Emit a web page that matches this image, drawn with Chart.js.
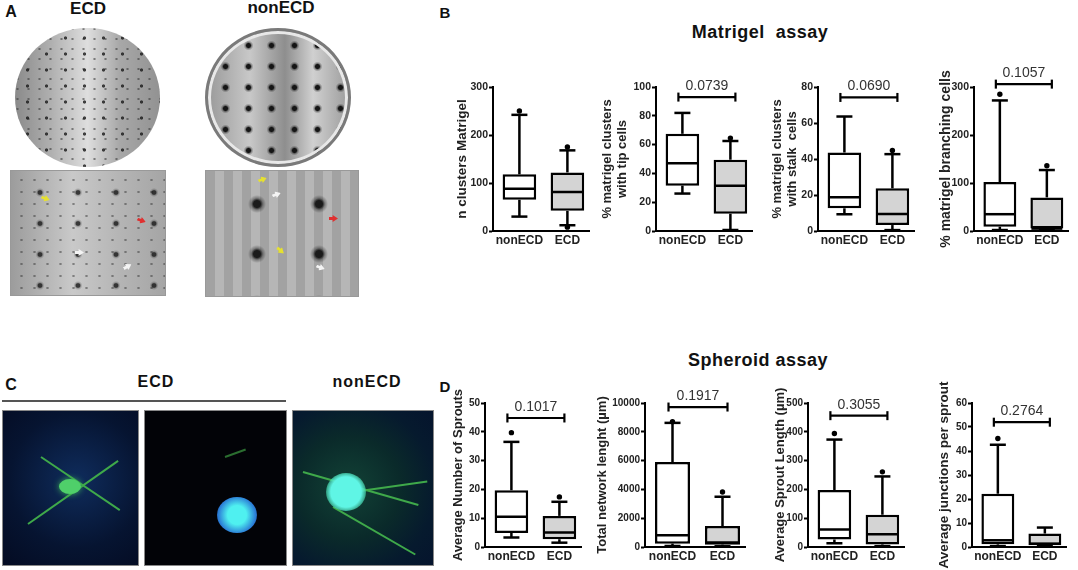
<!DOCTYPE html>
<html>
<head>
<meta charset="utf-8">
<script src="https://cdn.jsdelivr.net/npm/chart.js@4.4.1/dist/chart.umd.min.js"></script>
<style>
body { margin: 0; background: #fff; }
#fig { position: relative; width: 1078px; height: 570px; overflow: hidden; font-family: "Liberation Sans", Arial, sans-serif; color: #111; }
.lbl { position: absolute; font-weight: bold; white-space: pre; transform: translate(-50%, -50%); }
canvas { position: absolute; }
.pic { position: absolute; overflow: hidden; }
.dishA { border-radius: 50%;
  background-image: radial-gradient(circle, rgba(25,25,25,.8) 0 1.2px, transparent 2px),
                    radial-gradient(circle, rgba(50,50,50,.55) 0 0.8px, transparent 1.5px),
                    linear-gradient(90deg, #8a8a8a, #b0b0b0 25%, #dedede 50%, #a8a8a8 72%, #929292);
  background-size: 19px 16px, 11px 10px, 100% 100%;
  background-position: 3px 2px, 8px 6px, 0 0; }
.dishB { border-radius: 50%; box-sizing: border-box; border: 3px solid #7a7a7a; box-shadow: inset 0 0 0 3px #e8e8e8;
  background-image: radial-gradient(circle, #151515 0 2px, rgba(0,0,0,.3) 3.3px, transparent 5px),
                    linear-gradient(90deg, #9a9a9a, #c8c8c8 30%, #8e8e8e 55%, #d0d0d0 75%, #9d9d9d);
  background-size: 23px 21px, 100% 100%;
  background-position: 6px 4px, 0 0; }
.fieldA { border: 1px solid #999;
  background-image: radial-gradient(circle, rgba(20,20,20,.8) 0 1.8px, rgba(0,0,0,.2) 3px, transparent 4.5px),
                    radial-gradient(circle, rgba(40,40,40,.45) 0 0.9px, transparent 1.5px),
                    linear-gradient(90deg, #9c9c9c, #c9c9c9 40%, #b5b5b5 70%, #a5a5a5);
  background-size: 38px 31px, 13px 12px, 100% 100%; background-position: 10px 6px, 4px 3px, 0 0; }
.fieldB { border: 1px solid #999;
  background-image: radial-gradient(circle, #1a1a1a 0 3.5px, rgba(0,0,0,.3) 6px, transparent 9px),
                    repeating-linear-gradient(90deg, #a2a2a2 0 9px, #b6b6b6 9px 18px);
  background-size: 62px 50px, 100% 100%; background-position: 20px 8px, 0 0; }
.conf { border: 1px solid #888; }
.sprout { position: absolute; height: 2px; background: #3fa94a; transform-origin: 0 50%; }
.blob { position: absolute; border-radius: 50%; }
.arrow { position: absolute; width: 9px; height: 7px; clip-path: polygon(0 50%, 60% 0, 60% 30%, 100% 30%, 100% 70%, 60% 70%, 60% 100%); }
</style>
</head>
<body>
<div id="fig">
  <!-- panel A -->
  <div class="lbl" style="left:11px;top:12px;font-size:16px">A</div>
  <div class="lbl" style="left:88px;top:9px;font-size:17px">ECD</div>
  <div class="lbl" style="left:281px;top:8px;font-size:17px">nonECD</div>
  <div class="pic dishA" style="left:15px;top:28px;width:145px;height:139px"></div>
  <div class="pic dishB" style="left:205px;top:28px;width:146px;height:139px"></div>
  <div class="pic fieldA" style="left:10px;top:170px;width:154px;height:124px">
    <div class="arrow" style="left:30px;top:24px;background:#e5e030;transform:rotate(200deg)"></div>
    <div class="arrow" style="left:126px;top:46px;background:#e03030;transform:rotate(200deg)"></div>
    <div class="arrow" style="left:64px;top:78px;background:#f4f4f4;transform:rotate(180deg)"></div>
    <div class="arrow" style="left:112px;top:92px;background:#f4f4f4;transform:rotate(150deg)"></div>
  </div>
  <div class="pic fieldB" style="left:205px;top:170px;width:152px;height:125px">
    <div class="arrow" style="left:52px;top:5px;background:#e5e030;transform:rotate(160deg)"></div>
    <div class="arrow" style="left:66px;top:20px;background:#f4f4f4;transform:rotate(160deg)"></div>
    <div class="arrow" style="left:123px;top:44px;background:#e03030;transform:rotate(180deg)"></div>
    <div class="arrow" style="left:70px;top:76px;background:#e5e030;transform:rotate(220deg)"></div>
    <div class="arrow" style="left:110px;top:93px;background:#f4f4f4;transform:rotate(200deg)"></div>
  </div>

  <!-- panel C -->
  <div class="lbl" style="left:11px;top:385px;font-size:16px">C</div>
  <div class="lbl" style="left:156px;top:382px;font-size:16px;letter-spacing:1px">ECD</div>
  <div class="lbl" style="left:367px;top:382px;font-size:16px;letter-spacing:1px">nonECD</div>
  <div style="position:absolute;left:2px;top:400px;width:284px;height:2px;background:#555"></div>
  <div class="pic conf" style="left:2px;top:410px;width:135px;height:154px;background:radial-gradient(circle at 55% 45%, #0f2c5c, #061431 60%, #040b22)">
    <div class="sprout" style="left:38px;top:45px;width:95px;transform:rotate(34deg)"></div>
    <div class="sprout" style="left:25px;top:112px;width:110px;transform:rotate(-35deg)"></div>
    <div class="blob" style="left:56px;top:68px;width:22px;height:15px;background:#4fcf6a;box-shadow:0 0 6px #3cae55"></div>
  </div>
  <div class="pic conf" style="left:144px;top:410px;width:141px;height:154px;background:#020307">
    <div class="sprout" style="left:80px;top:45px;width:22px;transform:rotate(-20deg);background:#2b6e30"></div>
    <div class="blob" style="left:72px;top:86px;width:40px;height:36px;background:radial-gradient(circle, #4ff0f0 0 35%, #2a7ad6 70%, rgba(30,60,200,0) 100%)"></div>
  </div>
  <div class="pic conf" style="left:292px;top:410px;width:140px;height:154px;background:radial-gradient(circle at 40% 50%, #124236, #0a2a2a 45%, #061a2e 75%, #05142d)">
    <div class="sprout" style="left:10px;top:60px;width:120px;transform:rotate(16deg)"></div>
    <div class="sprout" style="left:40px;top:95px;width:95px;transform:rotate(30deg)"></div>
    <div class="sprout" style="left:60px;top:80px;width:75px;transform:rotate(-8deg)"></div>
    <div class="blob" style="left:33px;top:62px;width:40px;height:38px;background:radial-gradient(circle, #5ff5e5 0 55%, rgba(60,200,150,.6) 75%, rgba(0,0,0,0) 100%)"></div>
  </div>

  <!-- panels B and D -->
  <div class="lbl" style="left:445px;top:12px;font-size:15px">B</div>
  <div class="lbl" style="left:760px;top:32px;font-size:18px;letter-spacing:.5px">Matrigel  assay</div>
  <div class="lbl" style="left:758px;top:360px;font-size:18px;letter-spacing:.5px">Spheroid assay</div>
  <div class="lbl" style="left:445px;top:386px;font-size:15px">D</div>

  <canvas id="b1" width="151" height="198" style="left:440px;top:55px"></canvas>
  <canvas id="b2" width="164" height="198" style="left:590px;top:55px"></canvas>
  <canvas id="b3" width="164" height="198" style="left:752px;top:55px"></canvas>
  <canvas id="b4" width="145" height="198" style="left:925px;top:55px"></canvas>
  <canvas id="d1" width="143" height="199" style="left:440px;top:370px"></canvas>
  <canvas id="d2" width="162" height="199" style="left:585px;top:370px"></canvas>
  <canvas id="d3" width="151" height="199" style="left:755px;top:370px"></canvas>
  <canvas id="d4" width="143" height="199" style="left:925px;top:370px"></canvas>
</div>

<script>
const groups = ['nonECD', 'ECD'];

// box plots as [min, q1, median, q3, max]
const clustersNon = [30, 65, 88, 118, 242];
const clustersEcd = [12, 42, 81, 122, 168];
const clustersOut = [[250], [175, 8]];
const clustersTicks = [0, 100, 200, 300];

const tipNon = [26, 31.5, 47, 67.5, 82];
const tipEcd = [0.7, 12, 31.5, 49.5, 62.5];
const tipOut = [[], [64.5]];
const tipTicks = [0, 20, 40, 60, 80, 100];

const stalkNon = [9.3, 12.6, 18.7, 43.6, 63.6];
const stalkEcd = [0.5, 3.3, 9.5, 23.7, 42.7];
const stalkOut = [[], [44.7]];
const stalkTicks = [0, 20, 40, 60, 80];

const branchNon = [2, 9, 35, 102, 272];
const branchEcd = [2, 5, 5, 70, 127];
const branchOut = [[285], [136]];
const branchTicks = [0, 100, 200, 300];

const sproutsNon = [3.3, 4.9, 10.5, 19.7, 36.5];
const sproutsEcd = [1.5, 2.7, 5, 10.8, 15.7];
const sproutsOut = [[39.7], [17.4]];
const sproutsTicks = [0, 10, 20, 30, 40, 50];

const networkNon = [70, 234, 820, 5900, 8620];
const networkEcd = [50, 164, 305, 1450, 3490];
const networkOut = [[8700], [3820]];
const networkTicks = [0, 2000, 4000, 6000, 8000, 10000];

const lengthNon = [13, 26, 61, 198, 373];
const lengthEcd = [3, 9, 44, 112, 245];
const lengthOut = [[394], [261]];
const lengthTicks = [0, 100, 200, 300, 400, 500];

const junctionsNon = [0.4, 1.1, 2.8, 22.2, 42.6];
const junctionsEcd = [0.4, 0.7, 1.4, 5.6, 8.1];
const junctionsOut = [[45.2], []];
const junctionsTicks = [0, 10, 20, 30, 40, 50, 60];

// p values between groups and the level of their bracket
const pValues = ['', '0.0739', '0.0690', '0.1057', '0.1017', '0.1917', '0.3055', '0.2764'];
const pLevels = [0, 93, 74.2, 306, 44.8, 9720, 456, 52];

const FONT = '"Liberation Sans", Arial, sans-serif';

// whiskers, medians, outliers and the p value bracket
const boxPlot = {
    id: 'boxPlot',
    afterDatasetsDraw(chart, args, o) {
        const ctx = chart.ctx;
        const y = chart.scales.y;
        const bars = chart.getDatasetMeta(0).data;
        const line = (x1, y1, x2, y2) => {
            ctx.beginPath();
            ctx.moveTo(x1, y1);
            ctx.lineTo(x2, y2);
            ctx.stroke();
        };
        ctx.save();
        ctx.strokeStyle = '#000';
        ctx.fillStyle = '#000';
        ctx.lineWidth = 2.5;
        o.stats.forEach((s, i) => {
            const x = bars[i].x;
            const half = bars[i].width / 2;
            const yMin = y.getPixelForValue(s[0]), yQ1 = y.getPixelForValue(s[1]);
            const yMed = y.getPixelForValue(s[2]), yQ3 = y.getPixelForValue(s[3]);
            const yMax = y.getPixelForValue(s[4]);
            line(x, yQ3, x, yMax);
            line(x, yQ1, x, yMin);
            line(x - 8, yMax, x + 8, yMax);
            line(x - 8, yMin, x + 8, yMin);
            line(x - half + 1, yMed, x + half - 1, yMed);
            o.outliers[i].forEach(v => {
                ctx.beginPath();
                ctx.arc(x, y.getPixelForValue(v), 2.7, 0, 2 * Math.PI);
                ctx.fill();
            });
        });
        if (o.p) {
            const by = y.getPixelForValue(o.level);
            const x1 = bars[0].x - 4, x2 = bars[1].x + 5;
            ctx.lineWidth = 2.2;
            line(x1, by, x2, by);
            line(x1, by - 4.5, x1, by + 4.5);
            line(x2, by - 4.5, x2, by + 4.5);
            ctx.fillStyle = '#333';
            ctx.font = '14px ' + FONT;
            ctx.textAlign = 'center';
            ctx.textBaseline = 'middle';
            ctx.fillText(o.p, (x1 + x2) / 2, by - 11);
        }
        ctx.restore();
    }
};

function createBoxChart(chartId, non, ecd, outliers, ticks, title, pIndex, axisWidth, titlePad, padTop, titleSize, tickSize) {
    var ctx = document.getElementById(chartId).getContext('2d');
    return new Chart(ctx, {
        type: 'bar',
        data: {
            datasets: [{
                data: [{ x: 0, y: [non[1], non[3]] }, { x: 1, y: [ecd[1], ecd[3]] }],
                backgroundColor: ['#ffffff', '#d4d4d4'],
                borderColor: '#000',
                borderWidth: 2.5,
                borderSkipped: false,
                categoryPercentage: 1,
                barPercentage: 0.7
            }]
        },
        options: {
            responsive: false,
            animation: false,
            layout: { padding: { top: padTop, right: 2, left: 0, bottom: 0 } },
            plugins: {
                legend: { display: false },
                tooltip: { enabled: false },
                boxPlot: {
                    stats: [non, ecd],
                    outliers: outliers,
                    p: pValues[pIndex],
                    level: pLevels[pIndex]
                }
            },
            scales: {
                x: {
                    type: 'linear',
                    offset: false,
                    min: -0.55,
                    max: 1.45,
                    grid: { display: false, drawTicks: false },
                    border: { display: true, color: '#000', width: 2 },
                    ticks: {
                        color: '#222',
                        font: { family: FONT, size: 12, weight: 'bold' },
                        padding: 2,
                        maxRotation: 0,
                        autoSkip: false,
                        callback: v => groups[v]
                    },
                    afterBuildTicks: s => { s.ticks = [{ value: 0 }, { value: 1 }]; },
                    afterFit: s => { s.height = 22; }
                },
                y: {
                    min: ticks[0],
                    max: ticks[ticks.length - 1],
                    grid: { display: true, drawOnChartArea: false, drawTicks: true, tickLength: 4, tickColor: '#000', tickWidth: 2 },
                    border: { display: true, color: '#000', width: 2 },
                    ticks: {
                        stepSize: ticks[1] - ticks[0],
                        color: '#222',
                        font: { family: FONT, size: tickSize, weight: 'bold' },
                        padding: 1,
                        callback: v => String(v)
                    },
                    title: {
                        display: true,
                        text: title,
                        color: '#222',
                        font: { family: FONT, size: titleSize, weight: 'bold', lineHeight: 1.15 },
                        padding: { top: titlePad, bottom: 0 }
                    },
                    afterFit: s => { s.width = axisWidth; }
                }
            }
        },
        plugins: [boxPlot]
    });
}

createBoxChart('b1', clustersNon, clustersEcd, clustersOut, clustersTicks, 'n clusters Matrigel', 0, 53, 14.5, 32, 13.5, 10.5);
createBoxChart('b2', tipNon, tipEcd, tipOut, tipTicks, ['% matrigel clusters', 'with tip cells'], 1, 66, 9.5, 32, 13, 10.5);
createBoxChart('b3', stalkNon, stalkEcd, stalkOut, stalkTicks, ['% matrigel clusters', 'with stalk  cells'], 2, 66, 17.5, 32, 13, 10.5);
createBoxChart('b4', branchNon, branchEcd, branchOut, branchTicks, '% matrigel branching cells', 3, 49, 13.5, 32, 14, 10.5);
createBoxChart('d1', sproutsNon, sproutsEcd, sproutsOut, sproutsTicks, 'Average Number of Sprouts', 4, 45, 10.5, 33, 13, 10);
createBoxChart('d2', networkNon, networkEcd, networkOut, networkTicks, 'Total network lenght (µm)', 5, 60, 9.5, 33, 13, 10);
createBoxChart('d3', lengthNon, lengthEcd, lengthOut, lengthTicks, 'Average Sprout Length (µm)', 6, 53, 17.5, 33, 13, 10);
createBoxChart('d4', junctionsNon, junctionsEcd, junctionsOut, junctionsTicks, 'Average junctions per sprout', 7, 47, 11.5, 33, 13.5, 10);
</script>
</body>
</html>
